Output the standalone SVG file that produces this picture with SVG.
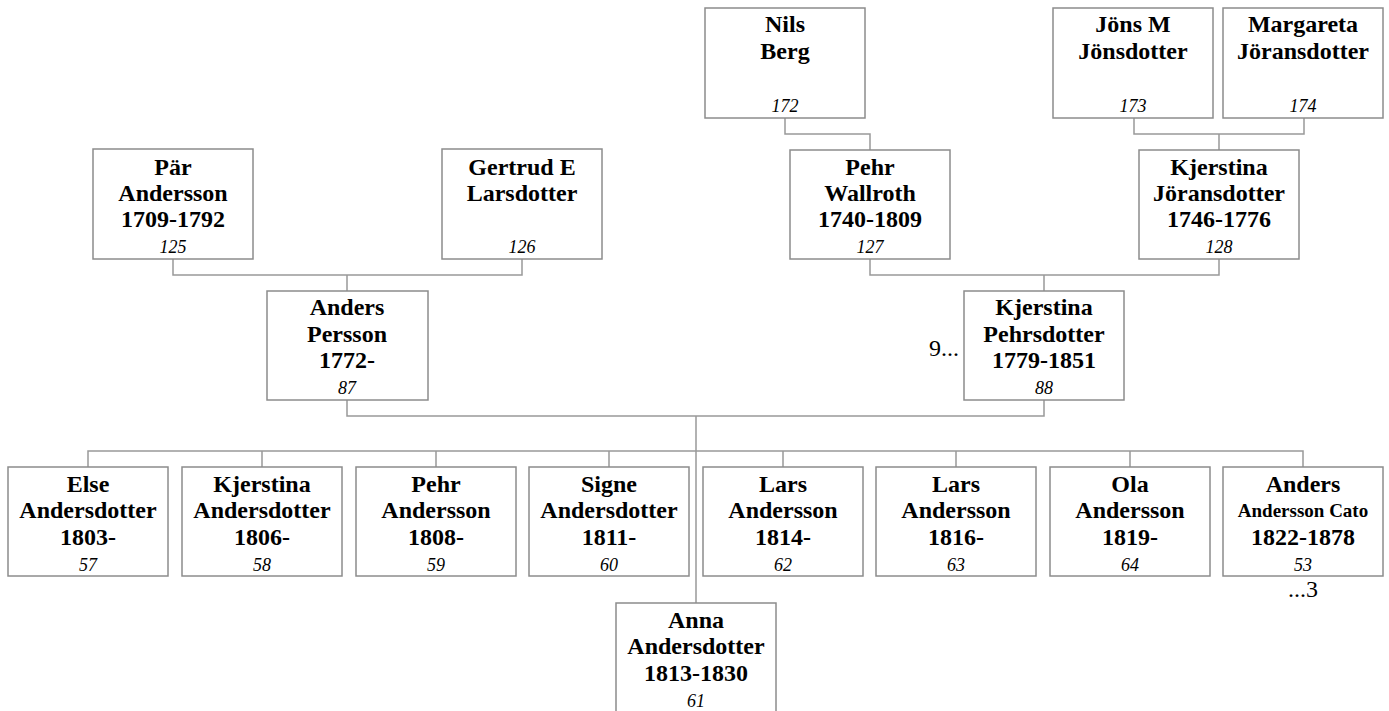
<svg xmlns="http://www.w3.org/2000/svg" width="1389" height="711" viewBox="0 0 1389 711">
<style>
.box{fill:#fff;stroke:#8c8c8c;stroke-width:1.5}
.con{fill:none;stroke:#999;stroke-width:1.5}
.n{font-family:"Liberation Serif","Times New Roman",serif;font-weight:bold;font-size:24px;text-anchor:middle;fill:#000}
.s{font-family:"Liberation Serif","Times New Roman",serif;font-weight:bold;font-size:19px;text-anchor:middle;fill:#000}
.id{font-family:"Liberation Serif","Times New Roman",serif;font-style:italic;font-size:18px;text-anchor:middle;fill:#000}
.t{font-family:"Liberation Serif","Times New Roman",serif;font-size:24px;fill:#000}
</style>
<rect width="1389" height="711" fill="#fff"/>
<g id="connectors">
<path class="con" d="M785,118 V134 H870 V150"/>
<path class="con" d="M1134,118 V134 H1304 V118 M1219,134 V150"/>
<path class="con" d="M173,259 V275 H522 V259 M347,275 V291"/>
<path class="con" d="M870,259 V275 H1219 V259 M1044,275 V291"/>
<path class="con" d="M347,400 V416 H1044 V400 M696,416 V603"/>
<path class="con" d="M88,467 V451 H1303 V467 M262,451 V467 M436,451 V467 M609,451 V467 M783,451 V467 M956,451 V467 M1130,451 V467"/>
</g>
<g id="n172"><rect class="box" x="705" y="8" width="160" height="110"/><text class="n" x="785" y="32">Nils</text><text class="n" x="785" y="59">Berg</text><text class="id" x="785" y="112">172</text></g>
<g id="n173"><rect class="box" x="1053" y="8" width="160" height="110"/><text class="n" x="1133" y="32">Jöns M</text><text class="n" x="1133" y="59">Jönsdotter</text><text class="id" x="1133" y="112">173</text></g>
<g id="n174"><rect class="box" x="1223" y="8" width="160" height="110"/><text class="n" x="1303" y="32">Margareta</text><text class="n" x="1303" y="59">Jöransdotter</text><text class="id" x="1303" y="112">174</text></g>
<g id="n125"><rect class="box" x="93" y="149" width="160" height="110"/><text class="n" x="173" y="175">Pär</text><text class="n" x="173" y="201">Andersson</text><text class="n" x="173" y="227">1709-1792</text><text class="id" x="173" y="253">125</text></g>
<g id="n126"><rect class="box" x="442" y="149" width="160" height="110"/><text class="n" x="522" y="175">Gertrud E</text><text class="n" x="522" y="201">Larsdotter</text><text class="id" x="522" y="253">126</text></g>
<g id="n127"><rect class="box" x="790" y="150" width="160" height="109"/><text class="n" x="870" y="175">Pehr</text><text class="n" x="870" y="201">Wallroth</text><text class="n" x="870" y="227">1740-1809</text><text class="id" x="870" y="253">127</text></g>
<g id="n128"><rect class="box" x="1139" y="150" width="160" height="109"/><text class="n" x="1219" y="175">Kjerstina</text><text class="n" x="1219" y="201">Jöransdotter</text><text class="n" x="1219" y="227">1746-1776</text><text class="id" x="1219" y="253">128</text></g>
<g id="n87"><rect class="box" x="267" y="291" width="161" height="109"/><text class="n" x="347" y="315">Anders</text><text class="n" x="347" y="342">Persson</text><text class="n" x="347" y="368">1772-</text><text class="id" x="347" y="394">87</text></g>
<g id="n88"><rect class="box" x="964" y="291" width="160" height="109"/><text class="n" x="1044" y="315">Kjerstina</text><text class="n" x="1044" y="342">Pehrsdotter</text><text class="n" x="1044" y="368">1779-1851</text><text class="id" x="1044" y="394">88</text><text class="t" x="929" y="356">9...</text></g>
<g id="n57"><rect class="box" x="8" y="467" width="160" height="109"/><text class="n" x="88" y="492">Else</text><text class="n" x="88" y="518">Andersdotter</text><text class="n" x="88" y="545">1803-</text><text class="id" x="88" y="571">57</text></g>
<g id="n58"><rect class="box" x="182" y="467" width="160" height="109"/><text class="n" x="262" y="492">Kjerstina</text><text class="n" x="262" y="518">Andersdotter</text><text class="n" x="262" y="545">1806-</text><text class="id" x="262" y="571">58</text></g>
<g id="n59"><rect class="box" x="356" y="467" width="160" height="109"/><text class="n" x="436" y="492">Pehr</text><text class="n" x="436" y="518">Andersson</text><text class="n" x="436" y="545">1808-</text><text class="id" x="436" y="571">59</text></g>
<g id="n60"><rect class="box" x="529" y="467" width="160" height="109"/><text class="n" x="609" y="492">Signe</text><text class="n" x="609" y="518">Andersdotter</text><text class="n" x="609" y="545">1811-</text><text class="id" x="609" y="571">60</text></g>
<g id="n62"><rect class="box" x="703" y="467" width="160" height="109"/><text class="n" x="783" y="492">Lars</text><text class="n" x="783" y="518">Andersson</text><text class="n" x="783" y="545">1814-</text><text class="id" x="783" y="571">62</text></g>
<g id="n63"><rect class="box" x="876" y="467" width="160" height="109"/><text class="n" x="956" y="492">Lars</text><text class="n" x="956" y="518">Andersson</text><text class="n" x="956" y="545">1816-</text><text class="id" x="956" y="571">63</text></g>
<g id="n64"><rect class="box" x="1050" y="467" width="160" height="109"/><text class="n" x="1130" y="492">Ola</text><text class="n" x="1130" y="518">Andersson</text><text class="n" x="1130" y="545">1819-</text><text class="id" x="1130" y="571">64</text></g>
<g id="n53"><rect class="box" x="1223" y="467" width="160" height="109"/><text class="n" x="1303" y="492">Anders</text><text class="s" x="1303" y="517">Andersson Cato</text><text class="n" x="1303" y="545">1822-1878</text><text class="id" x="1303" y="571">53</text><text class="t" x="1303" y="597" text-anchor="middle" font-size="21">...3</text></g>
<g id="n61"><rect class="box" x="616" y="603" width="160" height="109"/><text class="n" x="696" y="628">Anna</text><text class="n" x="696" y="654">Andersdotter</text><text class="n" x="696" y="681">1813-1830</text><text class="id" x="696" y="707">61</text></g>
</svg>
